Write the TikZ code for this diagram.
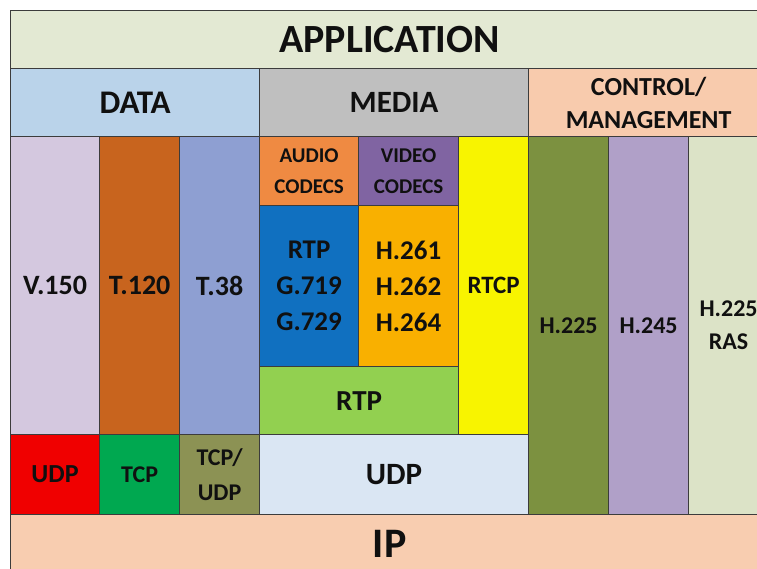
\documentclass[tikz,border=0pt]{standalone}
\usepackage{fontspec}
\setmainfont{Carlito}
\usetikzlibrary{positioning}

\definecolor{appbg}{HTML}{E3E9D3}
\definecolor{databg}{HTML}{BAD3EA}
\definecolor{mediabg}{HTML}{BFBFBF}
\definecolor{ctrlbg}{HTML}{F8CBAD}
\definecolor{vbg}{HTML}{D4C8DF}
\definecolor{tonebg}{HTML}{C8641E}
\definecolor{tthreebg}{HTML}{8E9FD2}
\definecolor{audiobg}{HTML}{EF8A42}
\definecolor{videobg}{HTML}{8064A2}
\definecolor{gbg}{HTML}{1070C0}
\definecolor{hbg}{HTML}{F9B000}
\definecolor{rtcpbg}{HTML}{F8F400}
\definecolor{rtpbg}{HTML}{92D050}
\definecolor{udpredbg}{HTML}{F00000}
\definecolor{tcpbg}{HTML}{00A850}
\definecolor{tcpudpbg}{HTML}{8C9254}
\definecolor{udpbg}{HTML}{DAE6F3}
\definecolor{hcallbg}{HTML}{7C9140}
\definecolor{hctrlbg}{HTML}{B0A0C8}
\definecolor{rasbg}{HTML}{DCE3C7}
\definecolor{ipbg}{HTML}{F8CDB0}
\definecolor{edge}{HTML}{3C3C3C}
\definecolor{ink}{HTML}{101010}

\newcommand{\sz}[2]{\fontsize{#1}{#2}\selectfont}

\tikzset{
  cell/.style={draw=edge, line width=1.2pt, anchor=north west, inner sep=0pt,
    align=center, text=ink, font=\bfseries},
}

\begin{document}
\begin{tikzpicture}[x=1pt, y=-1pt]
  \useasboundingbox (0,0) rectangle (757,569);
  \clip (0,0) rectangle (757,569);

  % top layers
  \node[cell, fill=appbg, minimum width=758pt, minimum height=58pt, font=\bfseries\sz{40}{46}] (app) at (10,10) {APPLICATION};
  \node[cell, fill=databg, minimum width=249pt, minimum height=68pt, font=\bfseries\sz{33}{38}] (data) at (10,68) {DATA};
  \node[cell, fill=mediabg, minimum width=269pt, minimum height=68pt, font=\bfseries\sz{31}{36}] (media) at (259,68) {MEDIA};
  \node[cell, fill=ctrlbg, minimum width=240pt, minimum height=68pt, font=\bfseries\sz{26}{33}] (ctrl) at (528,68) {CONTROL/\\MANAGEMENT};

  % data
  \node[cell, fill=vbg, minimum width=89pt, minimum height=298pt, font=\bfseries\sz{28}{32}] (v150) at (10,136) {V.150};
  \node[cell, fill=tonebg, minimum width=80pt, minimum height=298pt, font=\bfseries\sz{28}{32}] (t120) at (99,136) {T.120};
  \node[cell, fill=tthreebg, minimum width=80pt, minimum height=298pt, font=\bfseries\sz{28}{32}] (t38) at (179,136) {T.38};
  \node[cell, fill=udpredbg, minimum width=89pt, minimum height=80pt, font=\bfseries\sz{26}{32}] (udpdata) at (10,434) {UDP};
  \node[cell, fill=tcpbg, minimum width=80pt, minimum height=80pt, font=\bfseries\sz{24}{30}] (tcp) at (99,434) {TCP};
  \node[cell, fill=tcpudpbg, minimum width=80pt, minimum height=80pt, font=\bfseries\sz{24}{35}] (tcpudp) at (179,434) {TCP/\\UDP};

  % media
  \node[cell, fill=audiobg, minimum width=99pt, minimum height=69pt, font=\bfseries\sz{21}{31}] (audio) at (259,136) {AUDIO\\CODECS};
  \node[cell, fill=videobg, minimum width=100pt, minimum height=69pt, font=\bfseries\sz{21}{31}] (video) at (358,136) {VIDEO\\CODECS};
  \node[cell, fill=gbg, minimum width=99pt, minimum height=161pt, font=\bfseries\sz{27}{36}] (gcodec) at (259,205) {RTP\\G.719\\G.729};
  \node[cell, fill=hbg, minimum width=100pt, minimum height=161pt, font=\bfseries\sz{27}{36}] (hcodec) at (358,205) {H.261\\H.262\\H.264};
  \node[cell, fill=rtpbg, minimum width=199pt, minimum height=68pt, font=\bfseries\sz{29}{34}] (rtp) at (259,366) {RTP};
  \node[cell, fill=rtcpbg, minimum width=70pt, minimum height=298pt, font=\bfseries\sz{25}{30}] (rtcp) at (458,136) {RTCP};
  \node[cell, fill=udpbg, minimum width=269pt, minimum height=80pt, font=\bfseries\sz{31}{36}] (udpmedia) at (259,434) {UDP};

  % control
  \node[cell, fill=hcallbg, minimum width=80pt, minimum height=378pt, font=\bfseries\sz{24}{30}] (h225) at (528,136) {H.225};
  \node[cell, fill=hctrlbg, minimum width=80pt, minimum height=378pt, font=\bfseries\sz{24}{30}] (h245) at (608,136) {H.245};
  \node[cell, fill=rasbg, minimum width=80pt, minimum height=378pt, font=\bfseries\sz{24}{33}] (ras) at (688,136) {H.225\\RAS};

  % network
  \node[cell, fill=ipbg, minimum width=758pt, minimum height=58pt, font=\bfseries\sz{42}{48}] (ip) at (10,514) {IP};
\end{tikzpicture}
\end{document}
